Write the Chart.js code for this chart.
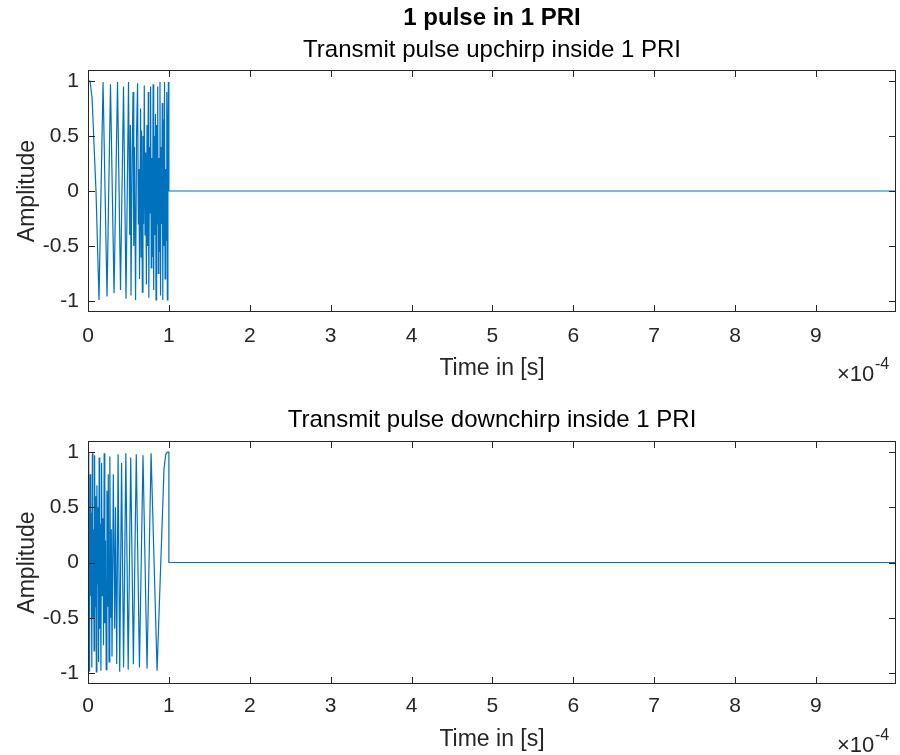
<!DOCTYPE html>
<html>
<head>
<meta charset="utf-8">
<script src="https://cdn.jsdelivr.net/npm/chart.js@4.4.0/dist/chart.umd.min.js"></script>
<style>
  body { margin: 0; background: #fff; width: 900px; height: 755px; overflow: hidden; }
  .panel { position: absolute; left: 0; width: 900px; }
</style>
</head>
<body>
<div class="panel" style="top:0;height:385px"><canvas id="upChart"></canvas></div>
<div class="panel" style="top:385px;height:370px"><canvas id="downChart"></canvas></div>
<script>
// time in units of 1e-4 s (axis shows x10^-4)
const upTime = [0, 0.025, 0.050, 0.099, 0.136, 0.186, 0.235, 0.278, 0.322, 0.365, 0.402, 0.439, 0.470,
  0.501, 0.516, 0.524, 0.532, 0.545, 0.557, 0.566, 0.574, 0.588, 0.600, 0.613, 0.622, 0.630, 0.637,
  0.650, 0.657, 0.662, 0.672, 0.680, 0.687, 0.696, 0.705, 0.713, 0.722, 0.730, 0.738, 0.745, 0.752,
  0.760, 0.767, 0.774, 0.782, 0.790, 0.797, 0.805, 0.812, 0.820, 0.827, 0.834, 0.841, 0.848, 0.855,
  0.862, 0.869, 0.876, 0.883, 0.890, 0.897, 0.904, 0.911, 0.918, 0.925, 0.932, 0.939, 0.946, 0.953,
  0.960, 0.967, 0.974, 0.981, 0.988, 0.994, 1.000, 9.99];
const upAmp = [1.00, 1.00, 0.85, 0.00, -0.99, 0.99, -0.96, 0.97, -0.93, 0.99, -0.90, 0.95, -0.98,
  0.99, -0.40, 0.60, -0.95, 0.30, 0.90, -0.50, 0.40, -0.99, 0.50, 0.98, -0.30, 0.20, -0.80,
  0.75, -0.60, 0.55, -0.92, 0.50, -0.30, 0.96, -0.40, 0.35, -0.85, 0.60, -0.50, 0.90, -0.97,
  0.40, -0.20, 0.95, -0.70, 0.30, -0.60, 0.97, -0.90, 0.50, -0.40, 0.70, -0.99, 0.60, -0.30,
  0.95, -0.75, 0.30, -0.55, 0.99, -0.95, 0.40, -0.30, 0.80, -0.99, 0.65, -0.50, 0.99, -0.80,
  0.20, -0.45, 0.90, -0.99, 0.55, 0.99, 0.00, 0.00];

const downTime = [0, 0.006, 0.012, 0.019, 0.026, 0.033, 0.040, 0.047, 0.054, 0.061, 0.068, 0.075,
  0.082, 0.089, 0.096, 0.103, 0.110, 0.117, 0.124, 0.131, 0.138, 0.145, 0.152, 0.160, 0.168, 0.176,
  0.184, 0.192, 0.200, 0.208, 0.216, 0.225, 0.234, 0.243, 0.251, 0.260, 0.270, 0.280, 0.288, 0.297,
  0.313, 0.330, 0.340, 0.355, 0.372, 0.392, 0.415, 0.440, 0.468, 0.497, 0.528, 0.561, 0.597, 0.636,
  0.680, 0.730, 0.780, 0.854, 0.900, 0.940, 0.962, 0.980, 1.000, 1.000, 9.99];
const downAmp = [0.99, -0.60, 0.50, -0.99, 0.80, -0.30, 0.45, -0.95, 0.99, -0.50, 0.30, -0.80,
  0.97, -0.40, 0.60, -0.99, 0.70, -0.20, 0.50, -0.90, 0.95, -0.60, 0.35, -0.98, 0.90, -0.30,
  0.40, -0.75, 0.99, -0.55, 0.20, -0.97, 0.65, -0.40, 0.80, -0.90, 0.96, -0.50, 0.30, -0.85,
  0.80, -0.60, 0.50, -0.92, 0.98, -0.99, 0.90, -0.95, 0.99, -0.97, 0.95, -0.92, 0.98, -0.95,
  0.97, -0.96, 0.99, -0.98, 0.00, 0.85, 0.98, 1.00, 1.00, 0.00, 0.00];

const xTicks = [0, 1, 2, 3, 4, 5, 6, 7, 8, 9];
const yTicks = [-1, -0.5, 0, 0.5, 1];

const lineColor = '#0072BD';
const axisColor = '#262626';
const font = '"Liberation Sans", Arial, sans-serif';

// MATLAB style box with inward ticks, titles centred on the axes and the x10^-4 exponent
const matlabBox = {
  id: 'matlabBox',
  afterDraw(chart, args, opts) {
    const { ctx, chartArea: a, scales: { x, y } } = chart;
    ctx.save();
    ctx.strokeStyle = axisColor;
    ctx.lineWidth = 1;
    ctx.strokeRect(a.left + 0.5, a.top + 0.5, a.right - a.left - 1, a.bottom - a.top - 1);
    ctx.beginPath();
    x.ticks.forEach(t => {
      const px = Math.round(x.getPixelForValue(t.value)) + 0.5;
      ctx.moveTo(px, a.bottom); ctx.lineTo(px, a.bottom - 7);
      ctx.moveTo(px, a.top); ctx.lineTo(px, a.top + 7);
    });
    y.ticks.forEach(t => {
      const py = Math.round(y.getPixelForValue(t.value)) + 0.5;
      ctx.moveTo(a.left, py); ctx.lineTo(a.left + 7, py);
      ctx.moveTo(a.right, py); ctx.lineTo(a.right - 7, py);
    });
    ctx.stroke();

    const cx = (a.left + a.right) / 2;
    ctx.fillStyle = '#000';
    ctx.textAlign = 'center';
    ctx.textBaseline = 'middle';
    if (opts.mainTitle) {
      ctx.font = 'bold 24px ' + font;
      ctx.fillText(opts.mainTitle, cx, opts.mainY);
    }
    ctx.font = '24px ' + font;
    ctx.fillText(opts.subtitle, cx, opts.subY);

    ctx.fillStyle = axisColor;
    ctx.textAlign = 'left';
    ctx.textBaseline = 'alphabetic';
    ctx.font = '22px ' + font;
    ctx.fillText('\u00d710', 837, chart.height - opts.expBottom);
    ctx.font = '16px ' + font;
    ctx.fillText('-4', 875, chart.height - opts.expBottom - 12);
    ctx.restore();
  }
};

function makeChart(id, times, amps, cfg) {
  return new Chart(document.getElementById(id), {
    type: 'line',
    data: {
      datasets: [{
        data: times.map((t, i) => ({ x: t, y: amps[i] })),
        borderColor: lineColor,
        borderWidth: 1.2,
        pointRadius: 0,
        tension: 0
      }]
    },
    options: {
      responsive: true,
      maintainAspectRatio: false,
      animation: false,
      layout: { padding: { left: 0, right: 4, top: cfg.top, bottom: 0 } },
      plugins: {
        legend: { display: false },
        tooltip: { enabled: false },
        title: { display: false },
        matlabBox: cfg.text
      },
      scales: {
        x: {
          type: 'linear',
          min: 0,
          max: 9.99,
          afterBuildTicks: s => { s.ticks = xTicks.map(v => ({ value: v })); },
          afterFit: s => { s.height = cfg.xHeight; },
          grid: { display: false, drawTicks: false },
          border: { display: false },
          ticks: {
            color: axisColor,
            font: { family: font, size: 21 },
            padding: cfg.xTickPad,
            maxRotation: 0,
            callback: v => String(v)
          },
          title: {
            display: true,
            text: 'Time in [s]',
            color: axisColor,
            font: { family: font, size: 23 },
            padding: { top: 0, bottom: cfg.xTitlePad }
          }
        },
        y: {
          min: -1.1,
          max: 1.1,
          afterBuildTicks: s => { s.ticks = yTicks.map(v => ({ value: v })); },
          afterFit: s => { s.width = 88; },
          grid: { display: false, drawTicks: false },
          border: { display: false },
          ticks: {
            color: axisColor,
            font: { family: font, size: 21 },
            padding: 9,
            callback: v => String(v)
          },
          title: {
            display: true,
            text: 'Amplitude',
            color: axisColor,
            font: { family: font, size: 23 },
            padding: { top: 14, bottom: 0 }
          }
        }
      }
    },
    plugins: [matlabBox]
  });
}

makeChart('upChart', upTime, upAmp, {
  top: 70,
  text: { mainTitle: '1 pulse in 1 PRI', mainY: 18, subtitle: 'Transmit pulse upchirp inside 1 PRI', subY: 50, expBottom: 4 },
  xHeight: 73, xTickPad: 12, xTitlePad: 3
});
makeChart('downChart', downTime, downAmp, {
  top: 56,
  text: { mainTitle: null, subtitle: 'Transmit pulse downchirp inside 1 PRI', subY: 35, expBottom: 3 },
  xHeight: 71, xTickPad: 10, xTitlePad: 2
});
</script>
</body>
</html>
